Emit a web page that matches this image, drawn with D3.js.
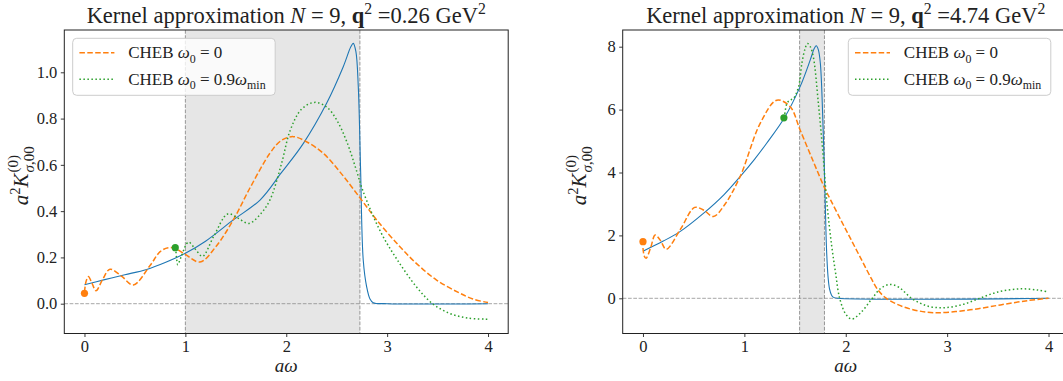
<!DOCTYPE html>
<html>
<head>
<meta charset="utf-8">
<script src="https://cdn.jsdelivr.net/npm/d3@7"></script>
<style>
  body { margin: 0; background: #fff; }
  svg { display: block; }
  text { font-family: "Liberation Serif", "DejaVu Serif", serif; fill: #222; white-space: pre; }
</style>
</head>
<body>
<svg id="fig" width="1063" height="381"></svg>
<script>
// ---------------------------------------------------------------------------
// Data: exact smeared kernel and two Chebyshev approximations (N = 9)
// for two momenta. Points are [aω, a²K] pairs.
// ---------------------------------------------------------------------------
const xTicks = [0, 1, 2, 3, 4];
const lowYTicks = [0, 0.2, 0.4, 0.6, 0.8, 1.0];
const highYTicks = [0, 2, 4, 6, 8];

// q² = 0.26 GeV²
const lowKernel = [[0,0.082],[0.2,0.104],[0.4,0.125],[0.616,0.148],[0.8,0.178],[1.0,0.218],[1.2,0.27],
  [1.475,0.362],[1.74,0.448],[1.95,0.565],[2.17,0.693],[2.4,0.866],[2.565,1.024],[2.64,1.11],[2.664,1.125],
  [2.69,1.09],[2.714,0.938],[2.737,0.578],[2.763,0.189],[2.797,0.073],[2.83,0.02],[2.862,0.004],[3.0,0],[4.0,0]];
const lowCheb0 = [[0,0.05],[0.015,0.095],[0.038,0.117],[0.075,0.088],[0.114,0.056],[0.18,0.105],[0.253,0.149],
  [0.37,0.118],[0.484,0.081],[0.65,0.165],[0.75,0.225],[0.83,0.242],[0.9,0.238],[0.99,0.216],[1.145,0.18],
  [1.3,0.245],[1.475,0.362],[1.64,0.5],[1.838,0.65],[1.95,0.705],[2.07,0.722],[2.2,0.70],[2.367,0.65],
  [2.55,0.56],[2.747,0.448],[2.9,0.36],[3.127,0.246],[3.3,0.17],[3.49,0.102],[3.7,0.05],[3.85,0.02],[4.0,0.005]];
const lowCheb09 = [[0.904,0.242],[0.912,0.2],[0.925,0.168],[0.96,0.205],[1.03,0.266],[1.1,0.235],[1.17,0.205],
  [1.28,0.29],[1.42,0.388],[1.52,0.37],[1.63,0.347],[1.75,0.39],[1.84,0.45],[1.95,0.6],[2.04,0.75],[2.15,0.84],
  [2.28,0.87],[2.4,0.85],[2.5,0.794],[2.6,0.70],[2.7,0.57],[2.75,0.5],[2.85,0.39],[2.96,0.29],[3.1,0.19],
  [3.29,0.073],[3.45,0.0],[3.62,-0.042],[3.8,-0.062],[4.0,-0.067]];
const lowStart = { cheb0: [0, 0.045], cheb09: [0.9, 0.242] };
const lowWindow = [1.0, 2.73];

// q² = 4.74 GeV²
const highKernel = [[0,1.5],[0.2,1.82],[0.365,2.12],[0.596,2.70],[0.8,3.3],[0.958,3.87],[1.1,4.42],[1.22,4.93],
  [1.395,5.74],[1.55,6.73],[1.65,7.58],[1.69,7.95],[1.709,8.03],[1.73,7.9],[1.75,7.45],[1.774,5.67],[1.795,3.4],
  [1.81,1.6],[1.825,0.7],[1.84,0.3],[1.86,0.1],[1.88,0.03],[1.92,0],[4,0]];
const highCheb0 = [[0,1.6],[0.012,1.35],[0.03,1.27],[0.075,1.6],[0.12,2.01],[0.17,1.85],[0.23,1.56],[0.37,2.2],
  [0.51,2.89],[0.6,2.8],[0.694,2.6],[0.8,2.95],[0.958,3.87],[1.156,5.56],[1.32,6.3],[1.452,6.09],[1.55,5.35],
  [1.68,4.35],[1.79,3.52],[1.85,3.13],[1.95,2.5],[2.05,1.88],[2.15,1.26],[2.25,0.64],[2.31,0.3],[2.38,0.05],
  [2.5,-0.18],[2.65,-0.35],[2.867,-0.457],[3.2,-0.38],[3.526,-0.21],[3.8,-0.07],[4.0,0]];
const highCheb09 = [[1.395,5.74],[1.42,6.2],[1.45,6.3],[1.485,6.36],[1.535,6.73],[1.567,7.47],[1.6,7.95],
  [1.623,8.1],[1.65,8.0],[1.68,7.68],[1.73,6.2],[1.775,4.61],[1.815,3.0],[1.86,1.7],[1.9,0.8],[1.94,0.0],
  [2.0,-0.5],[2.06,-0.66],[2.15,-0.45],[2.25,-0.05],[2.34,0.3],[2.43,0.44],[2.52,0.36],[2.65,0.0],[2.8,-0.24],
  [2.966,-0.3],[3.15,-0.2],[3.32,0.0],[3.5,0.2],[3.72,0.30],[3.9,0.26],[4.0,0.2]];
const highStart = { cheb0: [0, 1.8], cheb09: [1.39, 5.74] };
const highWindow = [1.545, 1.79];

// ---------------------------------------------------------------------------
const C = { blue: '#1f77b4', orange: '#ff7f0e', green: '#2ca02c' };
const svg = d3.select('#fig');

// Text with italic / bold / super- and subscript runs.
// parts: [string, flags] where flags may contain i, b, ^, _
function richText(parent, parts, fs) {
  const t = parent.append('text').attr('font-size', fs);
  let shift = 0;
  parts.forEach(([txt, f]) => {
    const target = f.includes('^') ? -0.4 * fs : f.includes('_') ? 0.25 * fs : 0;
    const ts = t.append('tspan').text(txt).attr('dy', target - shift);
    shift = target;
    if (f.includes('i')) ts.attr('font-style', 'italic');
    if (f.includes('b')) ts.attr('font-weight', 'bold');
    if (target !== 0) ts.attr('font-size', fs * 0.7);
  });
  return t;
}

function panel(cfg) {
  const { box, xDom, yDom, yTicks, yFmt } = cfg;
  const x = d3.scaleLinear().domain(xDom).range([box.x0, box.x1]);
  const y = d3.scaleLinear().domain(yDom).range([box.y1, box.y0]);
  const g = svg.append('g');

  const clipId = 'clip-' + cfg.id;
  g.append('clipPath').attr('id', clipId).append('rect')
    .attr('x', box.x0).attr('y', box.y0).attr('width', box.x1 - box.x0).attr('height', box.y1 - box.y0);
  const plot = g.append('g').attr('clip-path', `url(#${clipId})`);

  // fitted energy window
  plot.append('rect')
    .attr('x', x(cfg.window[0])).attr('width', x(cfg.window[1]) - x(cfg.window[0]))
    .attr('y', box.y0).attr('height', box.y1 - box.y0)
    .attr('fill', '#808080').attr('fill-opacity', 0.2);
  cfg.window.forEach(w => plot.append('line')
    .attr('x1', x(w)).attr('x2', x(w)).attr('y1', box.y0).attr('y2', box.y1)
    .attr('stroke', '#808080').attr('stroke-opacity', 0.8).attr('stroke-width', 1)
    .attr('stroke-dasharray', '3.7,1.6'));
  plot.append('line')
    .attr('x1', box.x0).attr('x2', box.x1).attr('y1', y(0)).attr('y2', y(0))
    .attr('stroke', '#808080').attr('stroke-opacity', 0.7).attr('stroke-width', 1)
    .attr('stroke-dasharray', '3.7,1.6');

  const line = d3.line().x(d => x(d[0])).y(d => y(d[1])).curve(d3.curveCatmullRom.alpha(0.5));
  plot.append('path').datum(cfg.kernel).attr('d', line)
    .attr('fill', 'none').attr('stroke', C.blue).attr('stroke-width', 1.1);
  plot.append('path').datum(cfg.cheb0).attr('d', line)
    .attr('fill', 'none').attr('stroke', C.orange).attr('stroke-width', 1.5).attr('stroke-dasharray', '5.5,2.4');
  plot.append('path').datum(cfg.cheb09).attr('d', line)
    .attr('fill', 'none').attr('stroke', C.green).attr('stroke-width', 1.5).attr('stroke-dasharray', '1.5,2.5');
  plot.append('circle').attr('cx', x(cfg.start.cheb0[0])).attr('cy', y(cfg.start.cheb0[1]))
    .attr('r', 3.6).attr('fill', C.orange);
  plot.append('circle').attr('cx', x(cfg.start.cheb09[0])).attr('cy', y(cfg.start.cheb09[1]))
    .attr('r', 3.6).attr('fill', C.green);

  // axes
  const ax = g.append('g').attr('transform', `translate(0,${box.y1})`)
    .call(d3.axisBottom(x).tickValues(xTicks).tickFormat(d3.format('d')).tickSize(3.5).tickPadding(3.5));
  const ay = g.append('g').attr('transform', `translate(${box.x0},0)`)
    .call(d3.axisLeft(y).tickValues(yTicks).tickFormat(yFmt).tickSize(3.5).tickPadding(3.5));
  [ax, ay].forEach(a => {
    a.select('.domain').remove();
    a.selectAll('.tick line').attr('stroke', '#222').attr('stroke-width', 0.9);
    a.selectAll('.tick text').attr('font-size', 16.5).attr('fill', '#222')
      .attr('font-family', '"Liberation Serif", "DejaVu Serif", serif');
  });
  g.append('rect').attr('x', box.x0).attr('y', box.y0)
    .attr('width', box.x1 - box.x0).attr('height', box.y1 - box.y0)
    .attr('fill', 'none').attr('stroke', '#222').attr('stroke-width', 1);

  // title
  richText(g, cfg.title, 22.5)
    .attr('x', (box.x0 + box.x1) / 2).attr('y', 23).attr('text-anchor', 'middle');

  // x label
  richText(g, [['aω', 'i']], 19)
    .attr('x', (box.x0 + box.x1) / 2).attr('y', 372).attr('text-anchor', 'middle');

  // y label  a²K^(0)_{σ,00}
  const yl = g.append('g');
  const base = richText(yl, [['a', 'i'], ['2', '^'], ['K', 'i']], 21).attr('x', 0).attr('y', 0);
  const w = base.node().getComputedTextLength();
  const sup = yl.append('text').attr('font-size', 15).attr('x', w + 1).attr('y', -10).text('(0)');
  const sub = richText(yl, [['σ', 'i'], [',00', '']], 15).attr('x', w + 1).attr('y', 6);
  const total = w + 1 + Math.max(sup.node().getComputedTextLength(), sub.node().getComputedTextLength());
  yl.selectAll('text').attr('transform', `translate(${-total / 2},0)`);
  yl.attr('transform', `translate(${cfg.yLabelX},${(box.y0 + box.y1) / 2 - 6}) rotate(-90)`);

  // legend
  const L = cfg.legend;
  const lg = g.append('g').attr('transform', `translate(${L.x},${L.y})`);
  lg.append('rect').attr('width', 202.5).attr('height', 57).attr('rx', 4)
    .attr('fill', '#fff').attr('fill-opacity', 0.8).attr('stroke', '#cccccc').attr('stroke-width', 1);
  const rows = [
    { color: C.orange, dash: '5.5,2.4', parts: [['CHEB ', ''], ['ω', 'i'], ['0', '_'], [' = 0', '']] },
    { color: C.green, dash: '1.5,2.5', parts: [['CHEB ', ''], ['ω', 'i'], ['0', '_'], [' = 0.9', ''], ['ω', 'i'], ['min', '_']] }
  ];
  rows.forEach((r, i) => {
    const cy = 14.5 + i * 26.5;
    lg.append('line').attr('x1', 6.7).attr('x2', 41.7).attr('y1', cy).attr('y2', cy)
      .attr('stroke', r.color).attr('stroke-width', 1.5).attr('stroke-dasharray', r.dash);
    richText(lg, r.parts, 17).attr('x', 55.5).attr('y', cy + 5.5);
  });
}

const lowTitle = [['Kernel approximation ', ''], ['N', 'i'], [' = 9, ', ''], ['q', 'b'], ['2', '^'], [' =0.26 GeV', ''], ['2', '^']];
const highTitle = [['Kernel approximation ', ''], ['N', 'i'], [' = 9, ', ''], ['q', 'b'], ['2', '^'], [' =4.74 GeV', ''], ['2', '^']];

panel({
  id: 'low', title: lowTitle,
  box: { x0: 64.3, x1: 508.2, y0: 30, y1: 333.5 },
  xDom: [-0.2, 4.2], yDom: [-0.1288, 1.1828], yTicks: lowYTicks, yFmt: d3.format('.1f'),
  kernel: lowKernel, cheb0: lowCheb0, cheb09: lowCheb09, start: lowStart, window: lowWindow,
  yLabelX: 28, legend: { x: 72.7, y: 38.3 }
});
panel({
  id: 'high', title: highTitle,
  box: { x0: 622.7, x1: 1068.8, y0: 30, y1: 333.5 },
  xDom: [-0.2, 4.2], yDom: [-1.119, 8.531], yTicks: highYTicks, yFmt: d3.format('d'),
  kernel: highKernel, cheb0: highCheb0, cheb09: highCheb09, start: highStart, window: highWindow,
  yLabelX: 586, legend: { x: 848.3, y: 38.3 }
});
</script>
</body>
</html>
